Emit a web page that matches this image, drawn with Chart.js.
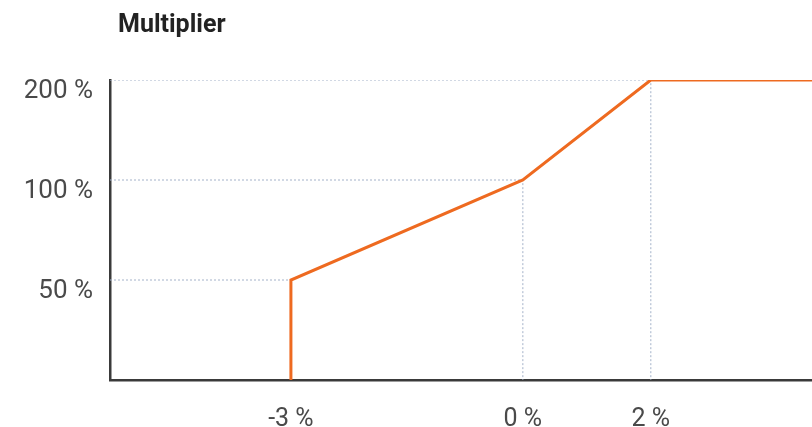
<!DOCTYPE html>
<html>
<head>
<meta charset="utf-8">
<script src="https://cdn.jsdelivr.net/npm/chart.js@4"></script>
<style>
  html, body { margin: 0; padding: 0; background: #fff; }
  #wrap { position: relative; width: 812px; height: 427px; }
  #title { position: absolute; left: 118px; top: 9px; font: 700 25px Roboto, sans-serif; color: #222; line-height: 30px; }
</style>
</head>
<body>
<div id="wrap">
  <div id="title">Multiplier</div>
  <canvas id="myChart" width="812" height="427"></canvas>
</div>
<script>
// deviation (%) -> multiplier (%)
const deviation = [-3, -3, 0, 2, 6];
const multiplier = [0, 50, 100, 200, 200];
const guidePoints = [[-3, 50], [0, 100], [2, 200]];

const xTickValues = [-3, 0, 2];
const xTickLabels = ["-3 %", "0 %", "2 %"];
const yTickValues = [0, 50, 100, 200];
const yTickLabels = ["", "50 %", "100 %", "200 %"];

// the axes are drawn schematically: y ticks evenly spaced, x stretched differently left/right of 0
function wx(x) { return x < 0 ? x : x * 0.8276; }
function wy(v) {
    for (let i = 1; i < yTickValues.length; i++) {
        if (v <= yTickValues[i]) {
            const a = yTickValues[i - 1], b = yTickValues[i];
            return (i - 1) + (v - a) / (b - a);
        }
    }
    return yTickValues.length - 1;
}

const xMin = -5.34;
const lineData = deviation.map((d, i) => ({ x: wx(d), y: wy(multiplier[i]) }));

const guideSets = guidePoints.map(p => ({
    data: [
        { x: xMin, y: wy(p[1]) },
        { x: wx(p[0]), y: wy(p[1]) },
        { x: wx(p[0]), y: 0 }
    ],
    borderColor: "#a4b2c9",
    borderWidth: 1,
    borderDash: [2, 2],
    pointRadius: 0,
    fill: false,
    order: 1
}));

new Chart("myChart", {
    type: "line",
    data: {
        datasets: [{
            data: lineData,
            borderColor: "#ee6a20",
            borderWidth: 3,
            pointRadius: 0,
            fill: false,
            order: 0
        }].concat(guideSets)
    },
    options: {
        responsive: false,
        animation: false,
        layout: { padding: { top: 80, right: 0, left: 0, bottom: 0 } },
        plugins: {
            legend: { display: false },
            tooltip: { enabled: false }
        },
        scales: {
            x: {
                type: "linear",
                min: xMin,
                max: 3.74,
                grid: { display: false, drawTicks: false },
                border: { display: true, color: "#3a3a3a", width: 2.5 },
                afterBuildTicks: function(scale) {
                    scale.ticks = xTickValues.map(v => ({ value: wx(v) }));
                },
                afterFit: function(scale) { scale.height = 47; },
                ticks: {
                    padding: 25,
                    color: "#4a4a4a",
                    font: { family: "Roboto", size: 25 },
                    autoSkip: false,
                    maxRotation: 0,
                    callback: function(value, index) { return xTickLabels[index]; }
                }
            },
            y: {
                type: "linear",
                min: 0,
                max: 3,
                grid: { display: false, drawTicks: false },
                border: { display: true, color: "#3a3a3a", width: 2.5 },
                afterBuildTicks: function(scale) {
                    scale.ticks = yTickValues.map(v => ({ value: wy(v) }));
                },
                afterFit: function(scale) { scale.width = 110; },
                ticks: {
                    padding: 17,
                    labelOffset: 11,
                    color: "#4a4a4a",
                    font: { family: "Roboto", size: 26 },
                    autoSkip: false,
                    callback: function(value, index) { return yTickLabels[index]; }
                }
            }
        }
    }
});
</script>
</body>
</html>
